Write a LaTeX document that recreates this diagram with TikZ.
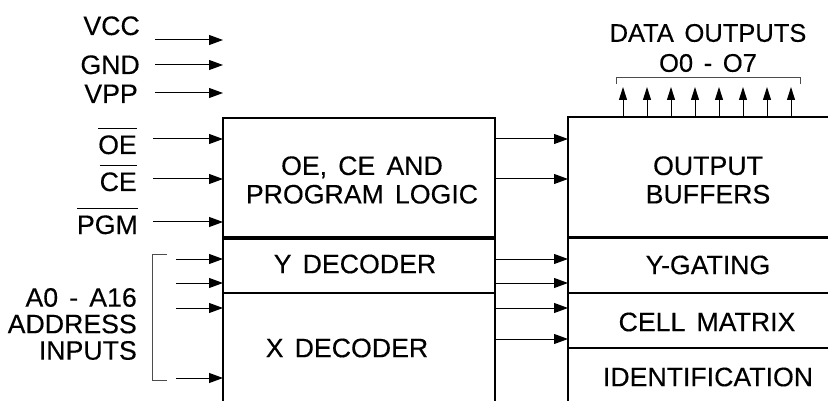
\documentclass[tikz,border=0pt]{standalone}
\usepackage{fontspec}
\setmainfont{Liberation Sans}[WordSpace=1.5, FakeBold=0.3]
\usetikzlibrary{arrows.meta}

\tikzset{
  sig/.style={-{Triangle[length=14pt,width=10pt]}, line width=1pt},
  upsig/.style={-{Triangle[length=13pt,width=8pt]}, line width=1pt},
  blk/.style={line width=2.2pt},
  pin/.style={anchor=base east, inner sep=0pt},
  txt/.style={align=center, inner sep=0pt},
  brk/.style={line width=0.8pt, black!70},
}
\newcommand{\barsig}[1]{$\overline{\hbox{\raisebox{0pt}[\dimexpr\height+6pt\relax]{#1}}}$}

\begin{document}
\begin{tikzpicture}[x=1pt, y=-1pt,
  every node/.style={font=\fontsize{26.7}{28.5}\selectfont}]
\useasboundingbox (0,0) rectangle (828,401);

% corners of the two blocks
\coordinate (lbw) at (223,118);
\coordinate (lbe) at (495,118);
\coordinate (rbw) at (568,117);
\coordinate (rbe) at (830,117);

% left block
\draw[blk] (lbw |- 0,402) -- (lbw) -- (lbe) -- (lbe |- 0,402);
\draw[line width=3.5pt] (lbw |- 0,238) -- (lbe |- 0,238);
\draw[blk] (lbw |- 0,293) -- (lbe |- 0,293);

% right block
\draw[blk] (rbw |- 0,402) -- (rbw) -- (rbe);
\draw[line width=3pt] (rbw |- 0,237) -- (rbe |- 0,237);
\draw[blk] (rbw |- 0,293) -- (rbe |- 0,293);
\draw[blk] (rbw |- 0,348) -- (rbe |- 0,348);

\node[txt] (ctl) at (362,180) {OE, CE AND\\PROGRAM LOGIC};
\node[txt] (ydec) at (355,264) {Y DECODER};
\node[txt] (xdec) at (347,348) {X DECODER};
\node[txt] (obuf) at (708,180) {OUTPUT\\BUFFERS};
\node[txt] (ygate) at (708,265) {Y-GATING};
\node[txt] (cells) at (707,322) {CELL MATRIX};
\node[txt] (ident) at (708,377) {IDENTIFICATION};

% supply and control pins
\node[pin] (vcc) at (140,35) {VCC};
\node[pin] (gnd) at (140,74) {GND};
\node[pin] (vpp) at (138,103) {VPP};
\node[pin] (oe) at (137,154) {\barsig{OE}};
\node[pin] (ce) at (137,191) {\barsig{CE}};
\node[pin] (pgm) at (138,234) {\barsig{PGM}};

\foreach \n/\y in {vcc/40,gnd/65,vpp/93}
  \draw[sig] (155,\y) coordinate (\n-a) -- (\n-a -| lbw);
\foreach \n/\y in {oe/139,ce/179,pgm/222}
  \draw[sig] (153,\y) coordinate (\n-a) -- (\n-a -| lbw);

% address inputs
\node[anchor=east, align=right, inner sep=0pt,
  font=\fontsize{26.7}{26.5}\selectfont] (addr) at (137,324)
  {A0 - A16\\ADDRESS\\INPUTS};
\draw[brk] (167,254) -- (152,254) -- (152,380) -- (167,380);
\foreach \y in {259,283,308,378}
  \draw[sig] (176,\y) coordinate (ad) -- (ad -| lbw);

% between the blocks
\foreach \y in {139,179,259,283,308,339}
  \draw[sig] (lbe |- 0,\y) -- (rbw |- 0,\y);

% data outputs
\node[txt, font=\fontsize{25.5}{30}\selectfont] (dout) at (708,48)
  {DATA OUTPUTS\\O0 - O7};
\draw[brk] (616,84) -- (616,77) -- (800,77) -- (800,84);
\foreach \x in {623,647,671,695,719,743,767,791}
  \draw[upsig] (rbw -| \x,0) -- (\x,87);
\end{tikzpicture}
\end{document}
